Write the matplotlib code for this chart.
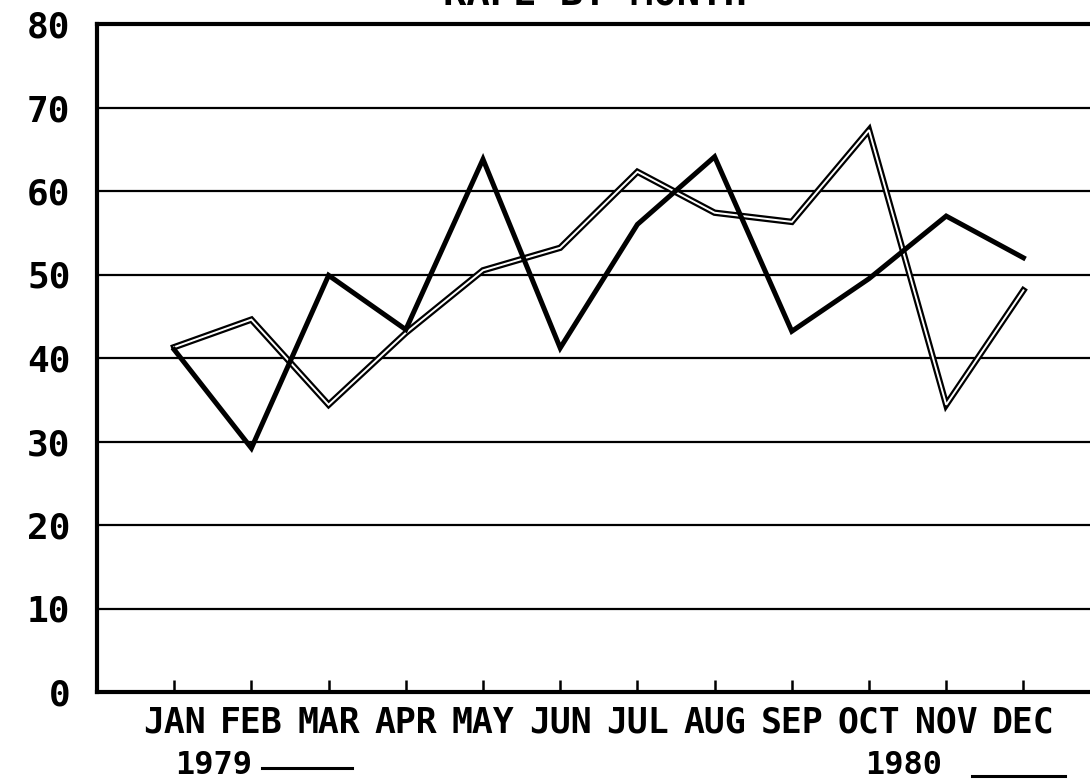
import matplotlib
matplotlib.use("Agg")
import matplotlib.pyplot as plt
from matplotlib.lines import Line2D

months = ['JAN', 'FEB', 'MAR', 'APR', 'MAY', 'JUN', 'JUL', 'AUG', 'SEP', 'OCT', 'NOV', 'DEC']
rapes_1979 = [41, 29.2, 49.9, 43.4, 63.8, 41.2, 56, 64.1, 43.2, 49.5, 57, 52]
rapes_1980 = [41.3, 44.6, 34.4, 43, 50.5, 53.2, 62.3, 57.4, 56.3, 67.3, 34.4, 48.1]
yticks = [0, 10, 20, 30, 40, 50, 60, 70, 80]

W, H = 1090, 783
FONT = 'DejaVu Sans Mono'

fig = plt.figure(figsize=(W / 100, H / 100), dpi=100)
# axes box in pixels: left 97, right runs off the page, top 24, bottom 692
ax = fig.add_axes([97 / W, 1 - 692 / H, (1098 - 97) / W, (692 - 24) / H])

x = list(range(1, len(months) + 1))
ax.set_xlim(0, (1098 - 97) / 77.2)
ax.set_ylim(0, 80)

for yv in yticks[1:-1]:
    ax.axhline(yv, color='black', lw=1.6, zorder=1)

# 1979: plain heavy line
ax.plot(x, rapes_1979, color='black', lw=3.6, solid_joinstyle='miter', zorder=3)
# 1980: double (outlined) line
ax.plot(x, rapes_1980, color='black', lw=4.6, solid_joinstyle='miter', zorder=2)
ax.plot(x, rapes_1980, color='white', lw=1.4, solid_joinstyle='miter', zorder=2.5)

for side in ['left', 'bottom', 'top']:
    ax.spines[side].set_linewidth(3.0)
ax.spines['right'].set_visible(False)

ax.set_xticks(x)
ax.set_xticklabels(months, fontsize=25, fontweight='bold', family=FONT)
ax.tick_params(axis='x', direction='in', length=9, width=1.8, pad=10)
ax.set_yticks(yticks)
ax.set_yticklabels([str(v) for v in yticks], fontsize=26, fontweight='bold', family=FONT)
ax.tick_params(axis='y', length=0, pad=19)

# title, mostly cut off at the top edge of the page (as in the original)
fig.text(595 / W, 1 - 6 / H, 'RAPE BY MONTH', ha='center', va='baseline',
         fontsize=28, fontweight='bold', family=FONT)

# year key
fig.text(175 / W, 1 - 766 / H, '1979', ha='left', va='center',
         fontsize=23, fontweight='bold', family=FONT)
fig.add_artist(Line2D([262 / W, 352 / W], [1 - 768 / H, 1 - 768 / H],
                      color='black', lw=2.2, transform=fig.transFigure))
fig.text(865 / W, 1 - 766 / H, '1980', ha='left', va='center',
         fontsize=23, fontweight='bold', family=FONT)
fig.add_artist(Line2D([972 / W, 1065 / W], [1 - 776 / H, 1 - 776 / H],
                      color='black', lw=2.2, transform=fig.transFigure))

fig.savefig('out.png', dpi=100)
